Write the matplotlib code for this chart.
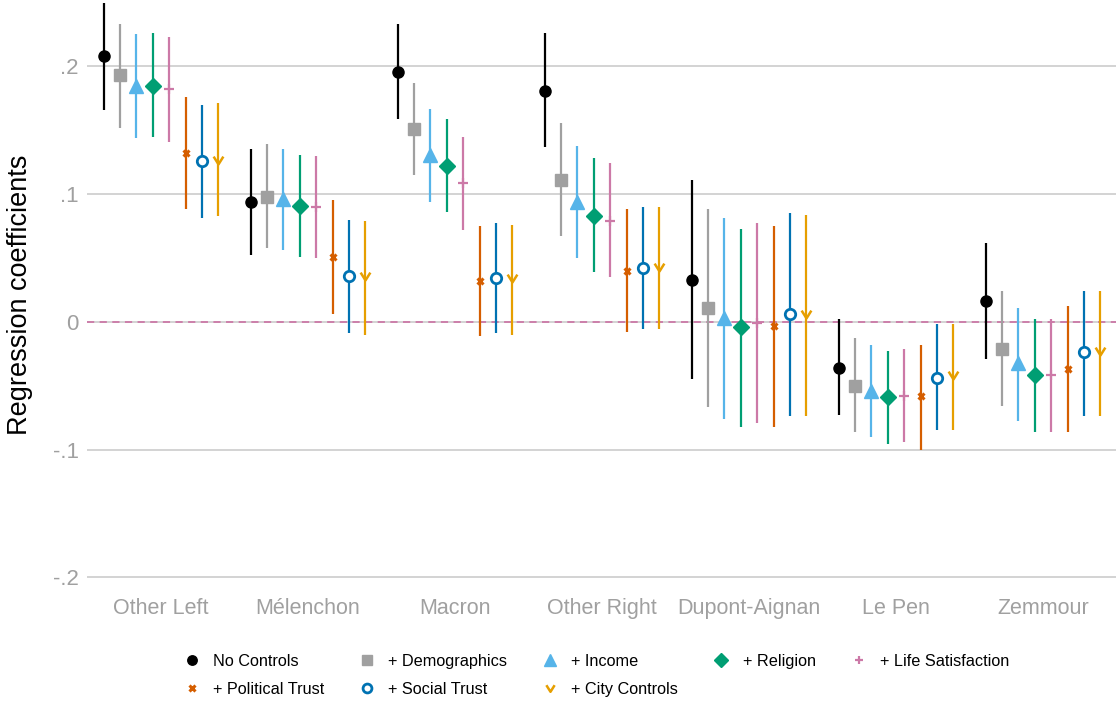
import numpy as np
import matplotlib.pyplot as plt
from matplotlib.path import Path

plt.rcParams['font.family'] = ['Liberation Sans', 'DejaVu Sans']

parties = ['Other Left', 'Mélenchon', 'Macron', 'Other Right',
           'Dupont-Aignan', 'Le Pen', 'Zemmour']
models = ['No Controls', '+ Demographics', '+ Income', '+ Religion',
          '+ Life Satisfaction', '+ Political Trust', '+ Social Trust',
          '+ City Controls']

# point estimates, one row per model, one column per party
coef = [
    [0.208, 0.094, 0.196, 0.181, 0.033, -0.036, 0.016],
    [0.193, 0.098, 0.151, 0.111, 0.011, -0.050, -0.021],
    [0.185, 0.096, 0.131, 0.094, 0.003, -0.054, -0.032],
    [0.185, 0.091, 0.122, 0.083, -0.004, -0.059, -0.042],
    [0.182, 0.090, 0.109, 0.079, -0.001, -0.058, -0.042],
    [0.132, 0.051, 0.032, 0.040, -0.003, -0.058, -0.037],
    [0.126, 0.036, 0.034, 0.042, 0.006, -0.044, -0.024],
    [0.127, 0.036, 0.034, 0.043, 0.006, -0.042, -0.023],
]
ci_low = [
    [0.166, 0.052, 0.159, 0.137, -0.045, -0.073, -0.029],
    [0.152, 0.058, 0.115, 0.067, -0.067, -0.086, -0.066],
    [0.144, 0.056, 0.094, 0.050, -0.076, -0.090, -0.078],
    [0.145, 0.051, 0.086, 0.039, -0.082, -0.096, -0.086],
    [0.141, 0.050, 0.072, 0.035, -0.079, -0.094, -0.086],
    [0.088, 0.006, -0.011, -0.008, -0.082, -0.100, -0.086],
    [0.081, -0.009, -0.009, -0.006, -0.074, -0.085, -0.074],
    [0.083, -0.010, -0.010, -0.006, -0.074, -0.085, -0.074],
]
ci_high = [
    [0.250, 0.135, 0.233, 0.226, 0.111, 0.002, 0.062],
    [0.233, 0.139, 0.187, 0.156, 0.088, -0.013, 0.024],
    [0.225, 0.135, 0.167, 0.138, 0.081, -0.018, 0.011],
    [0.226, 0.131, 0.159, 0.128, 0.073, -0.023, 0.002],
    [0.223, 0.130, 0.145, 0.124, 0.077, -0.021, 0.002],
    [0.176, 0.095, 0.075, 0.088, 0.075, -0.018, 0.012],
    [0.170, 0.080, 0.077, 0.090, 0.085, -0.002, 0.024],
    [0.171, 0.079, 0.076, 0.090, 0.084, -0.002, 0.024],
]

colors = ['#000000', '#A0A0A0', '#56B4E9', '#009E73', '#CC79A7',
          '#D55E00', '#0072B2', '#E69F00']
chevron = Path([(-1, 0.8), (0, -0.8), (1, 0.8)],
               [Path.MOVETO, Path.LINETO, Path.LINETO])
markers = ['o', 's', '^', 'D', '+', 'x', 'o', chevron]
msizes = [8, 8, 10, 8, 7, 5, 7.5, 7]
faces = ['#000000', '#A0A0A0', '#56B4E9', '#009E73', '#CC79A7',
         '#D55E00', 'white', 'none']
mew = [1, 1, 1, 1, 1.6, 2.2, 2.0, 1.8]

fig = plt.figure(figsize=(11.19, 7.02), dpi=100)
ax = fig.add_axes([87 / 1119, 1 - 590 / 702, 1029 / 1119, 590 / 702])

x = np.arange(len(parties))
step = 0.1115
handles = []
for i, m in enumerate(models):
    xs = x + (i - 3.5) * step
    c = np.array(coef[i])
    lo = c - np.array(ci_low[i])
    hi = np.array(ci_high[i]) - c
    ax.errorbar(xs, c, yerr=[lo, hi], fmt='none', ecolor=colors[i],
                elinewidth=1.6, capsize=0, zorder=3)
    h, = ax.plot(xs, c, linestyle='none', marker=markers[i],
                 markersize=msizes[i], color=colors[i],
                 markerfacecolor=faces[i], markeredgecolor=colors[i],
                 markeredgewidth=mew[i], zorder=4, label=m)
    handles.append(h)

ax.axhline(0, color='#CC79A7', linestyle=(0, (4, 3)), linewidth=1.3, zorder=2)

ax.set_xlim(-0.503, 6.497)
ax.set_ylim(-0.21, 0.252)
ax.set_yticks([-0.2, -0.1, 0, 0.1, 0.2])
ax.set_yticklabels(['-.2', '-.1', '0', '.1', '.2'])
ax.set_xticks(x)
ax.set_xticklabels(parties)
ax.grid(axis='y', color='#C8C8C8', linewidth=1.1, zorder=0)
ax.set_axisbelow(True)
for s in ax.spines.values():
    s.set_visible(False)
ax.tick_params(axis='y', length=0, pad=6, labelsize=16, labelcolor='#A0A0A0')
ax.tick_params(axis='x', length=0, pad=6, labelsize=15.5, labelcolor='#A0A0A0')
ax.set_ylabel('Regression coefficients', fontsize=19.5, color='black', labelpad=14)

order = [0, 5, 1, 6, 2, 7, 3, 4]
leg = fig.legend([handles[k] for k in order], [models[k] for k in order],
                 ncol=5, loc='upper left', bbox_to_anchor=(0.151, 0.089),
                 frameon=False, fontsize=11.7, handlelength=1.0,
                 handletextpad=0.8, columnspacing=2.15, labelspacing=0.8,
                 markerscale=0.85)

fig.savefig('out.png', dpi=100)
